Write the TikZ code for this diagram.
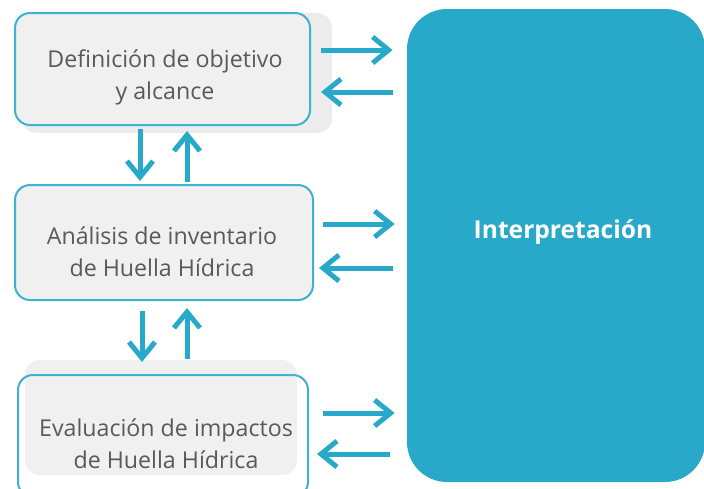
\documentclass[tikz,border=0pt]{standalone}
\usepackage{fontspec}
\setmainfont{Open Sans}
\usetikzlibrary{arrows.meta}
\definecolor{hhblue}{HTML}{29A9C9}
\definecolor{hhline}{HTML}{3DB2D1}
\definecolor{hhgray}{HTML}{F0F0F0}
\definecolor{hhshade}{HTML}{ECECEC}
\definecolor{hhtext}{HTML}{595959}
\tikzset{
  box/.style={draw=hhline, line width=1pt, rounded corners=7.5pt, inner sep=0pt},
  shade/.style={fill=hhshade, rounded corners=7.5pt, inner sep=0pt},
  boxtext/.style={text=hhtext, align=center, font=\fontsize{11.6}{16}\selectfont},
  flow/.style={draw=hhblue, line width=2.5pt, -{Straight Barb[length=8pt,width=13pt]}}
}
\begin{document}
\begin{tikzpicture}[x=0.5pt,y=-0.5pt]
  \useasboundingbox (0,0) rectangle (704,488);
  % grey backgrounds
  \node[shade, minimum width=155pt, minimum height=60pt] (defshade) at (177,73) {};
  \node[shade, fill=hhgray, minimum width=136pt, minimum height=57.5pt] (evalshade) at (161,417.5) {};
  % phase boxes
  \node[box, fill=hhgray, minimum width=147.5pt, minimum height=56pt] (def) at (162.5,69) {};
  \node[box, fill=hhgray, minimum width=149pt, minimum height=57.5pt] (inv) at (164,242.5) {};
  \node[box, minimum width=145pt, minimum height=61pt] (eval) at (163,436) {};
  \node[fill=hhblue, rounded corners=20pt, inner sep=0pt, minimum width=149pt, minimum height=236.5pt] (interp) at (556,245.5) {};
  % texts
  \node[boxtext] (deftext) at (165,77) {Definición de objetivo\\y alcance};
  \node[boxtext] (invtext) at (162,251.5) {Análisis de inventario\\de Huella Hídrica};
  \node[boxtext] (evaltext) at (166,444) {Evaluación de impactos\\de Huella Hídrica};
  \node[text=white, font=\fontsize{12.3}{14}\bfseries] (interptext) at (563,232) {Interpretación};
  % arrows to and from interpretation
  \begin{scope}[flow]
    \draw[shorten <=5pt, shorten >=7pt] (def.east |- 0,50) -- (interp.west |- 0,50);
    \draw[shorten <=7pt, shorten >=5pt] (interp.west |- 0,92) -- (def.east |- 0,92);
    \draw[shorten <=4.5pt, shorten >=6pt] (inv.east |- 0,224) -- (interp.west |- 0,224);
    \draw[shorten <=7pt, shorten >=2.5pt] (interp.west |- 0,268) -- (inv.east |- 0,268);
    \draw[shorten <=7pt, shorten >=6pt] (eval.east |- 0,413) -- (interp.west |- 0,413);
    \draw[shorten <=8.5pt, shorten >=4pt] (interp.west |- 0,454) -- (eval.east |- 0,454);
  \end{scope}
  % arrows between phases
  \begin{scope}[flow]
    \draw[shorten <=1.5pt, shorten >=1.5pt] (140,0 |- def.south) -- (140,0 |- inv.north);
    \draw[shorten <=1pt, shorten >=2.5pt] (187,0 |- inv.north) -- (187,0 |- def.south);
    \draw[shorten <=5pt, shorten >=6pt] (142,0 |- inv.south) -- (142,0 |- eval.north);
    \draw[shorten <=7.5pt, shorten >=3.5pt] (187,0 |- eval.north) -- (187,0 |- inv.south);
  \end{scope}
\end{tikzpicture}
\end{document}
